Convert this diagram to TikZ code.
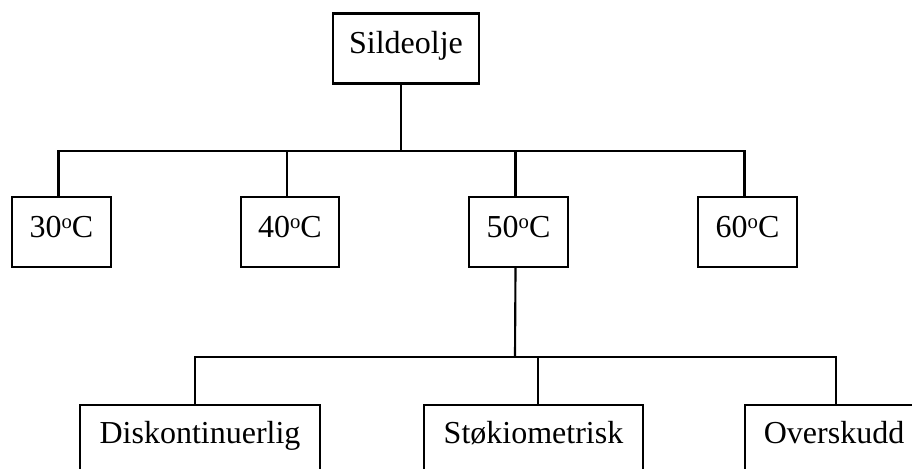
\documentclass[tikz,border=0pt]{standalone}
\usepackage{fontspec}
\setmainfont{Liberation Serif}
\newcommand{\degsup}{\raisebox{6.5pt}{\fontsize{15.5}{15.5}\selectfont o}}
\begin{document}
\begin{tikzpicture}[x=0.75pt,y=-0.75pt,
  line width=1.6pt,
  box/.style={draw,rectangle,inner sep=0pt,font=\fontsize{24}{26}\selectfont,text height=30pt,text depth=22.5pt},
  lowbox/.style={box,text height=28.5pt,text depth=30pt}]
\useasboundingbox (0,0) rectangle (912,468);
% top
\node[box,minimum width=110pt] (top) at (406,48.5) {Sildeolje};
% temperatures
\node[box,minimum width=74.25pt] (b30) at (61.5,232) {30\degsup C};
\node[box,minimum width=73.5pt] (b40) at (290,232) {40\degsup C};
\node[box,minimum width=74.25pt] (b50) at (518.5,232) {50\degsup C};
\node[box,minimum width=74.25pt] (b60) at (747.5,232) {60\degsup C};
% bottom
\node[lowbox,minimum width=180pt,anchor=north] (dis) at (200,404) {Diskontinuerlig};
\node[lowbox,minimum width=164.25pt,anchor=north] (sto) at (533.5,404) {Støkiometrisk};
\node[lowbox,minimum width=150pt,anchor=north west] (ove) at (744,404) {\hspace*{-16.5pt}Overskudd};
% connectors, upper tree
\coordinate (h1) at (401,151);
\draw (top.south -| h1) -- (h1);
\draw ([xshift=-2.25pt]b30.north) |- ([xshift=-2.25pt]b60.north |- h1) -- ([xshift=-2.25pt]b60.north);
\draw ([xshift=-2.25pt]b40.north) -- ([xshift=-2.25pt]b40.north |- h1);
\draw ([xshift=-2.25pt]b50.north) -- ([xshift=-2.25pt]b50.north |- h1);
% connectors, lower tree
\coordinate (h2) at (515,357);
\draw ([xshift=-2.25pt]b50.south) -- (h2);
\draw ([xshift=-3.75pt]dis.north) |- (ove.north west |- h2) -- ++(69pt,0) coordinate (h3) -- (h3 |- ove.north);
\draw ([xshift=3.5pt]sto.north) -- ([xshift=3.5pt]sto.north |- h2);
\end{tikzpicture}
\end{document}
